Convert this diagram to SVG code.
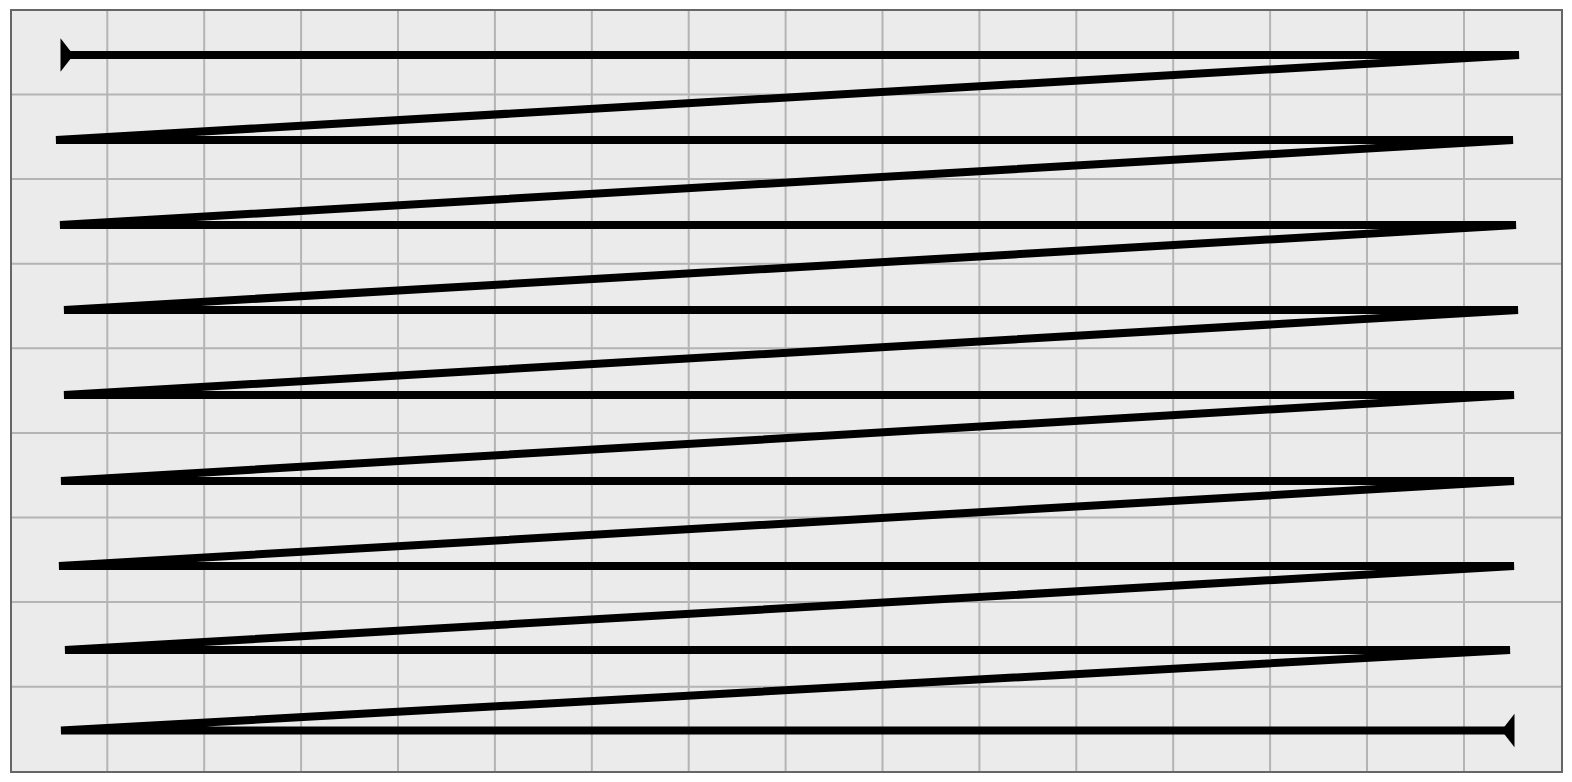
<svg xmlns="http://www.w3.org/2000/svg" width="1572" height="782" viewBox="0 0 1572 782">
  <style>
    .bg { fill: #ebebeb; }
    .grid { stroke: #b4b4b4; stroke-width: 2; fill: none; }
    .frame { fill: none; stroke: #666666; stroke-width: 2; }
    .zig { fill: none; stroke: #000000; stroke-width: 8; marker-start: url(#arr); marker-end: url(#arr); }
  </style>
  <defs>
    <marker id="arr" markerUnits="userSpaceOnUse" viewBox="-10 -20 20 40" markerWidth="20" markerHeight="40" refX="0" refY="0" orient="auto-start-reverse" overflow="visible">
      <path d="M -8.5,0 L 4.5,-16.7 L 4.5,16.7 Z" fill="#000000"/>
    </marker>
  </defs>
  <g id="background">
    <rect class="bg" x="11" y="10" width="1551" height="762"/>
  </g>
  <g id="grid" class="grid">
    <path d="M107.3,10V772 M204.2,10V772 M301.1,10V772 M398,10V772 M494.9,10V772 M591.8,10V772 M688.7,10V772 M785.6,10V772 M882.5,10V772 M979.4,10V772 M1076.3,10V772 M1173.2,10V772 M1270.1,10V772 M1367,10V772 M1464,10V772"/>
    <path d="M11,94.5H1562 M11,179.1H1562 M11,263.7H1562 M11,348.3H1562 M11,432.9H1562 M11,517.5H1562 M11,602.1H1562 M11,686.7H1562"/>
  </g>
  <g id="frame">
    <rect class="frame" x="11" y="10" width="1551" height="762"/>
  </g>
  <g id="connectors">
    <polyline class="zig" points="65,55 1519,55 56,140 1513,140 60,225 1516,225 64,310 1518,310 64,395 1514,395 61,481 1514,481 59,566 1514,566 65,650 1510,650 61,730.5 1510,730.5"/>
  </g>
</svg>
